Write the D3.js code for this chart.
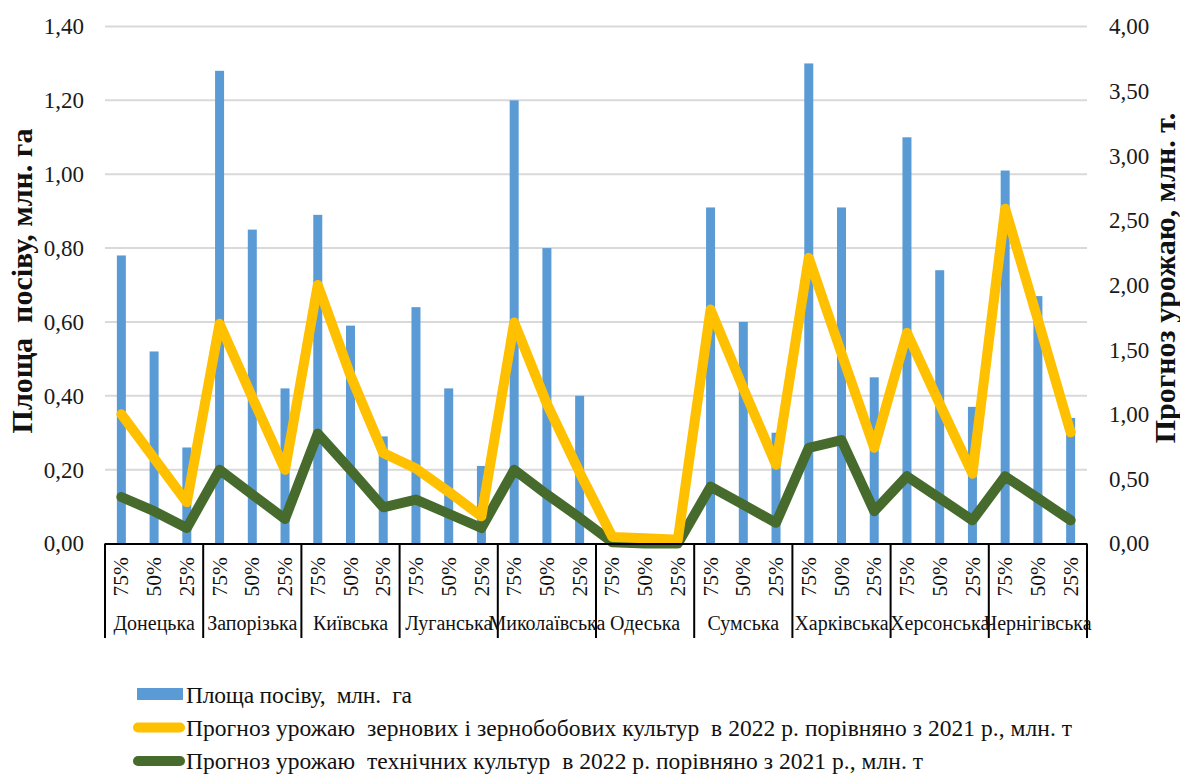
<!DOCTYPE html>
<html>
<head>
<meta charset="utf-8">
<script src="https://cdn.jsdelivr.net/npm/d3@7"></script>
<style>
  html, body { margin: 0; padding: 0; background: #fff; }
  svg { display: block; }
  svg text { font-family: "Liberation Serif", "Times New Roman", serif; }
</style>
</head>
<body>
<svg id="chart" width="1180" height="775"></svg>
<script>
// Regions and probability levels
const regions = ["Донецька","Запорізька","Київська","Луганська","Миколаївська","Одеська","Сумська","Харківська","Херсонська","Чернігівська"];
const levels = ["75%","50%","25%"];

// Sown area, mln ha (left axis)
const sownArea = [0.78,0.52,0.26, 1.28,0.85,0.42, 0.89,0.59,0.29, 0.64,0.42,0.21, 1.20,0.80,0.40, 0,0,0, 0.91,0.60,0.30, 1.30,0.91,0.45, 1.10,0.74,0.37, 1.01,0.67,0.34];
// Grain and legume harvest forecast, mln t (right axis)
const grainForecast = [1.00,0.66,0.32, 1.70,1.13,0.57, 2.00,1.30,0.70, 0.58,0.40,0.21, 1.71,1.08,0.55, 0.05,0.04,0.03, 1.81,1.20,0.61, 2.21,1.47,0.74, 1.63,1.08,0.54, 2.59,1.73,0.86];
// Industrial crops harvest forecast, mln t (right axis)
const techForecast = [0.36,0.25,0.12, 0.57,0.38,0.19, 0.85,0.57,0.28, 0.34,0.23,0.12, 0.57,0.38,0.20, 0.01,0.00,0.00, 0.44,0.30,0.16, 0.74,0.80,0.25, 0.52,0.35,0.18, 0.52,0.35,0.18];

const leftTicks = [0,0.2,0.4,0.6,0.8,1.0,1.2,1.4];
const rightTicks = [0,0.5,1.0,1.5,2.0,2.5,3.0,3.5,4.0];

const legendLabels = [
  "Площа посіву,  млн.  га",
  "Прогноз урожаю  зернових і зернобобових культур  в 2022 р. порівняно з 2021 р., млн. т",
  "Прогноз урожаю  технічних культур  в 2022 р. порівняно з 2021 р., млн. т"
];

const colors = { bar: "#5b9bd5", grain: "#ffc000", tech: "#466b2c", grid: "#d9d9d9" };
const serif = "Liberation Serif";

const svg = d3.select("#chart");
const plotLeft = 105, plotRight = 1087, plotTop = 26.5, plotBottom = 543.5;

const cats = d3.range(regions.length * levels.length);
const x = d3.scaleBand().domain(cats).range([plotLeft, plotRight]).padding(0);
const yL = d3.scaleLinear().domain([0, 1.4]).range([plotBottom, plotTop]);
const yR = d3.scaleLinear().domain([0, 4]).range([plotBottom, plotTop]);

const uk = d3.formatLocale({ decimal: ",", thousands: " ", grouping: [3], currency: ["", ""] });
const fmt = uk.format(".2f");

// Horizontal gridlines
svg.append("g").selectAll("line")
  .data(leftTicks.filter(d => d > 0))
  .join("line")
  .attr("x1", plotLeft).attr("x2", plotRight)
  .attr("y1", d => yL(d)).attr("y2", d => yL(d))
  .attr("stroke", colors.grid).attr("stroke-width", 2);

// Left axis labels
const axL = svg.append("g").attr("transform", `translate(${plotLeft},0)`)
  .call(d3.axisLeft(yL).tickValues(leftTicks).tickFormat(fmt).tickSize(0).tickPadding(21));
axL.attr("font-family", serif);
axL.select(".domain").remove();
axL.selectAll("text").attr("font-size", 23).attr("fill", "#1a1a1a");

// Right axis labels
const axR = svg.append("g").attr("transform", `translate(${plotRight},0)`)
  .call(d3.axisRight(yR).tickValues(rightTicks).tickFormat(fmt).tickSize(0).tickPadding(22));
axR.attr("font-family", serif);
axR.select(".domain").remove();
axR.selectAll("text").attr("font-size", 23).attr("fill", "#1a1a1a");

// Bars
const barW = 9;
svg.append("g").selectAll("rect")
  .data(cats)
  .join("rect")
  .attr("x", i => x(i) + x.bandwidth() / 2 - barW / 2)
  .attr("width", barW)
  .attr("y", i => yL(sownArea[i]))
  .attr("height", i => yL(0) - yL(sownArea[i]))
  .attr("fill", colors.bar);

// Lines
const lineGen = arr => d3.line()
  .x(i => x(i) + x.bandwidth() / 2)
  .y(i => yR(arr[i]))(cats);

svg.append("path").attr("d", lineGen(techForecast))
  .attr("fill", "none").attr("stroke", colors.tech).attr("stroke-width", 10)
  .attr("stroke-linejoin", "round").attr("stroke-linecap", "round");
svg.append("path").attr("d", lineGen(grainForecast))
  .attr("fill", "none").attr("stroke", colors.grain).attr("stroke-width", 10)
  .attr("stroke-linejoin", "round").attr("stroke-linecap", "round");

// Category axis line and group separators
const axisG = svg.append("g");
axisG.append("line").attr("x1", plotLeft).attr("x2", plotRight).attr("y1", plotBottom + 0.5).attr("y2", plotBottom + 0.5)
  .attr("stroke", "#000").attr("stroke-width", 2);
axisG.selectAll("line.sep")
  .data(d3.range(regions.length + 1))
  .join("line").attr("class", "sep")
  .attr("x1", g => g < regions.length ? x(g * 3) : plotRight)
  .attr("x2", g => g < regions.length ? x(g * 3) : plotRight)
  .attr("y1", plotBottom).attr("y2", 638)
  .attr("stroke", "#000").attr("stroke-width", 2);

// Level labels (rotated)
const axB = svg.append("g").attr("transform", `translate(0,${plotBottom})`)
  .call(d3.axisBottom(x).tickFormat(i => levels[i % 3]).tickSize(0));
axB.attr("font-family", serif);
axB.select(".domain").remove();
axB.selectAll("text")
  .attr("font-size", 21.5).attr("fill", "#111")
  .attr("transform", "rotate(-90)")
  .attr("x", -13.5).attr("y", 0).attr("dy", "0.33em")
  .attr("text-anchor", "end");

// Region labels
svg.append("g").attr("font-family", serif).selectAll("text")
  .data(regions)
  .join("text")
  .attr("x", (d, g) => x(g * 3) + x.bandwidth() * 1.5)
  .attr("y", 630)
  .attr("text-anchor", "middle")
  .attr("font-size", 20).attr("fill", "#111")
  .text(d => d);

// Axis titles
svg.append("text")
  .attr("transform", "translate(32,281) rotate(-90)")
  .attr("text-anchor", "middle").attr("font-weight", "bold").attr("font-size", 30).attr("fill", "#111")
  .style("white-space", "pre")
  .text("Площа  посіву, млн. га");
svg.append("text")
  .attr("transform", "translate(1175,278) rotate(-90)")
  .attr("text-anchor", "middle").attr("font-weight", "bold").attr("font-size", 30).attr("fill", "#111")
  .text("Прогноз урожаю, млн. т.");

// Legend
const lg = svg.append("g");
const ly = [695, 727.5, 761];
const lw = [226, 886, 737];
lg.append("rect").attr("x", 137).attr("y", 688).attr("width", 46).attr("height", 12).attr("fill", colors.bar);
lg.append("line").attr("x1", 138).attr("x2", 180).attr("y1", ly[1]).attr("y2", ly[1])
  .attr("stroke", colors.grain).attr("stroke-width", 10).attr("stroke-linecap", "round");
lg.append("line").attr("x1", 138).attr("x2", 180).attr("y1", ly[2]).attr("y2", ly[2])
  .attr("stroke", colors.tech).attr("stroke-width", 10).attr("stroke-linecap", "round");
lg.selectAll("text.lbl")
  .data(legendLabels)
  .join("text").attr("class", "lbl")
  .attr("x", 186).attr("y", (d, i) => ly[i]).attr("dy", "0.35em")
  .attr("font-size", 23.5).attr("fill", "#111")
  .attr("textLength", (d, i) => lw[i]).attr("lengthAdjust", "spacing")
  .style("white-space", "pre")
  .text(d => d);
</script>
</body>
</html>
